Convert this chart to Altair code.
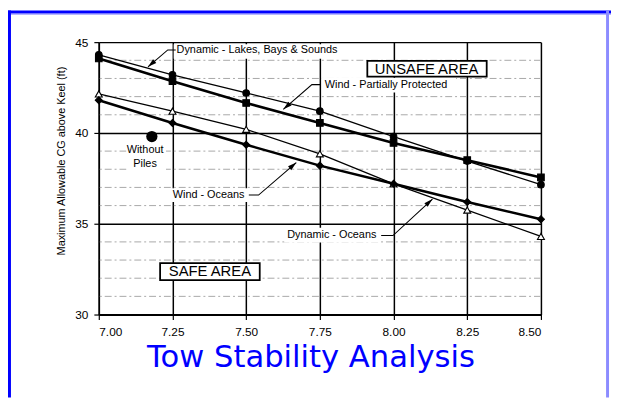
import math
import altair as alt
import pandas as pd

# ---------------- data ----------------
x_vals = [7.00, 7.25, 7.50, 7.75, 8.00, 8.25, 8.50]
dyn_lakes = [44.3, 43.2, 42.2, 41.2, 39.8, 38.45, 37.15]
wind_pp = [44.1, 42.85, 41.65, 40.55, 39.45, 38.5, 37.55]
dyn_oceans = [42.15, 41.2, 40.2, 38.85, 37.2, 35.75, 34.3]
wind_oceans = [41.8, 40.55, 39.35, 38.2, 37.2, 36.2, 35.25]

series_names = ["Dynamic - Lakes, Bays & Sounds", "Wind - Partially Protected",
                "Dynamic - Oceans", "Wind - Oceans"]
series_values = [dyn_lakes, wind_pp, dyn_oceans, wind_oceans]

without_piles_x = [7.18]
without_piles_y = [39.8]

y_ticks = [30, 35, 40, 45]
minor_y = [31, 32, 33, 34, 36, 37, 38, 39, 41, 42, 43, 44]

# annotation labels (data coordinates)
label_text = ["Dynamic - Lakes, Bays & Sounds", "Wind - Partially Protected",
              "Wind - Oceans", "Dynamic - Oceans"]
label_x = [7.264, 7.767, 7.251, 7.639]
label_y = [44.57, 42.66, 36.58, 34.40]

piles_text = ["Without", "Piles"]
piles_x = [7.157, 7.157]
piles_y = [39.08, 38.30]

area_text = ["UNSAFE AREA", "SAFE AREA"]
area_x = [8.112, 7.377]
area_y = [43.53, 32.37]
area_x1 = [7.911, 7.208]
area_x2 = [8.316, 7.546]
area_y1 = [43.97, 32.83]
area_y2 = [43.10, 31.90]

# white backgrounds behind label texts
bg_x1 = [7.254, 7.757, 7.241, 7.629, 7.094]
bg_x2 = [7.830, 8.212, 7.509, 7.957, 7.228]
bg_y1 = [44.89, 43.04, 36.96, 34.78, 39.45]
bg_y2 = [44.08, 42.23, 36.20, 33.97, 37.93]

# leader lines: three points each (label end, elbow, tip)
leader_x = [[7.261, 7.234, 7.167], [7.753, 7.723, 7.626],
            [7.509, 7.542, 7.670], [7.958, 7.998, 8.132]]
leader_y = [[44.57, 44.57, 43.64], [42.66, 42.66, 41.30],
            [36.58, 36.58, 38.37], [34.35, 34.35, 36.36]]

# ---------------- styles ----------------
W, H = 448, 276
XMIN, XMAX, YMIN, YMAX = 7.0, 8.5, 30.0, 45.0
FONT = "Liberation Sans"

styles = {
    "Dynamic - Lakes, Bays & Sounds": dict(shape="circle", filled=True, width=1.3, size=45),
    "Wind - Partially Protected": dict(shape="square", filled=True, width=2.6, size=45),
    "Dynamic - Oceans": dict(shape="triangle-up", filled=False, width=1.3, size=50),
    "Wind - Oceans": dict(shape="diamond", filled=True, width=2.6, size=50),
}

xscale = alt.Scale(domain=[XMIN, XMAX], nice=False, zero=False)
yscale = alt.Scale(domain=[YMIN, YMAX], nice=False, zero=False)
xaxis = alt.Axis(values=x_vals, format=".2f", title=None, grid=True,
                 gridColor="black", gridWidth=1.5, gridOpacity=1,
                 domainColor="black", domainWidth=2, tickColor="black",
                 tickSize=5, tickWidth=1.2, labelFont=FONT, labelFontSize=12,
                 labelColor="black", labelPadding=7)
yaxis = alt.Axis(values=y_ticks, title="Maximum Allowable CG above Keel (ft)",
                 grid=True, gridColor="black", gridWidth=1.4, gridOpacity=1,
                 domainColor="black", domainWidth=1.6, tickColor="black",
                 tickSize=5, tickWidth=1.2, labelFont=FONT, labelFontSize=12,
                 labelColor="black", labelPadding=6, titleFont=FONT,
                 titleFontSize=11, titleFontWeight=500, titleColor="black",
                 titlePadding=8, titleY=120)


def X(field="x"):
    return alt.X(f"{field}:Q", scale=xscale, axis=xaxis)


def Y(field="y"):
    return alt.Y(f"{field}:Q", scale=yscale, axis=yaxis)


layers = []

# minor dashed grid
minor_df = pd.DataFrame({"y": minor_y})
layers.append(alt.Chart(minor_df).mark_rule(color="#a8a8a8", strokeWidth=1,
                                              strokeDash=[7, 3, 2, 3]).encode(y=Y()))

# white backgrounds behind annotation labels
bg_df = pd.DataFrame({"x": bg_x1, "x2": bg_x2, "y": bg_y1, "y2": bg_y2})
layers.append(alt.Chart(bg_df).mark_rect(color="white").encode(
    x=X(), x2="x2:Q", y=Y(), y2="y2:Q"))

# series lines and points
for name, vals in zip(series_names, series_values):
    st = styles[name]
    df = pd.DataFrame({"x": x_vals, "y": vals})
    layers.append(alt.Chart(df).mark_line(color="black", strokeWidth=st["width"]).encode(
        x=X(), y=Y()))
for name, vals in zip(series_names, series_values):
    st = styles[name]
    df = pd.DataFrame({"x": x_vals, "y": vals})
    layers.append(alt.Chart(df).mark_point(
        shape=st["shape"], filled=True, size=st["size"], opacity=1,
        fill="black" if st["filled"] else "white", stroke="black",
        strokeWidth=1.1).encode(x=X(), y=Y()))

# without piles point
wp_df = pd.DataFrame({"x": without_piles_x, "y": without_piles_y})
layers.append(alt.Chart(wp_df).mark_point(shape="circle", filled=True, size=130,
                                          color="black", opacity=1).encode(x=X(), y=Y()))

# leader lines
rows = []
for i, (lx, ly) in enumerate(zip(leader_x, leader_y)):
    for j, (a, b) in enumerate(zip(lx, ly)):
        rows.append({"id": i, "o": j, "x": a, "y": b})
ld_df = pd.DataFrame(rows)
layers.append(alt.Chart(ld_df).mark_line(color="black", strokeWidth=1.1).encode(
    x=X(), y=Y(), detail="id:N", order="o:Q"))

# arrowheads
heads = []
for lx, ly in zip(leader_x, leader_y):
    dxp = (lx[2] - lx[1]) * W / (XMAX - XMIN)
    dyp = -(ly[2] - ly[1]) * H / (YMAX - YMIN)
    ang = math.degrees(math.atan2(dxp, -dyp)) % 360
    heads.append({"x": lx[2], "y": ly[2], "angle": ang})
hd_df = pd.DataFrame(heads)
layers.append(alt.Chart(hd_df).mark_point(
    shape="M0,0L0.8,2.8L-0.8,2.8Z", filled=True, size=40, color="black",
    opacity=1).encode(x=X(), y=Y(), angle=alt.Angle("angle:Q", scale=None)))

# annotation texts
lb_df = pd.DataFrame({"x": label_x, "y": label_y, "t": label_text})
layers.append(alt.Chart(lb_df).mark_text(align="left", baseline="middle", font=FONT,
                                         fontSize=11, color="black").encode(
    x=X(), y=Y(), text="t:N"))
pl_df = pd.DataFrame({"x": piles_x, "y": piles_y, "t": piles_text})
layers.append(alt.Chart(pl_df).mark_text(align="center", baseline="middle", font=FONT,
                                         fontSize=11, color="black").encode(
    x=X(), y=Y(), text="t:N"))

# boxed area labels
ar_df = pd.DataFrame({"x": area_x1, "x2": area_x2, "y": area_y1, "y2": area_y2})
layers.append(alt.Chart(ar_df).mark_rect(fill="white", stroke="black", strokeWidth=1.8).encode(
    x=X(), x2="x2:Q", y=Y(), y2="y2:Q"))
at_df = pd.DataFrame({"x": area_x, "y": area_y, "t": area_text})
layers.append(alt.Chart(at_df).mark_text(align="center", baseline="middle", font=FONT,
                                         fontSize=15, color="black").encode(
    x=X(), y=Y(), text="t:N"))

# blue frame decoration (page pixels)
one = pd.DataFrame({"a": [0]})
layers.append(alt.Chart(one).mark_rect(color="#0000ff").encode(
    x=alt.value(-92), x2=alt.value(519), y=alt.value(-32), y2=alt.value(-29)))
layers.append(alt.Chart(one).mark_rect(color="#7070ff").encode(
    x=alt.value(-92), x2=alt.value(519), y=alt.value(-29), y2=alt.value(-28)))
layers.append(alt.Chart(one).mark_rect(color="#0000ff").encode(
    x=alt.value(-92), x2=alt.value(-89), y=alt.value(-32), y2=alt.value(360)))
layers.append(alt.Chart(one).mark_rect(color="#8c8cff").encode(
    x=alt.value(514), x2=alt.value(517), y=alt.value(-32), y2=alt.value(360)))

# title
layers.append(alt.Chart(one).mark_text(align="center", baseline="middle",
                                       font="DejaVu Sans", fontSize=31,
                                       color="#0000ff").encode(
    x=alt.value(215), y=alt.value(320), text=alt.value("Tow Stability Analysis")))

chart = alt.layer(*layers).properties(
    width=W, height=H,
    autosize=alt.AutoSizeParams(type="none"),
    padding={"left": 92, "top": 32, "right": 71, "bottom": 84},
    background="white",
).configure_view(stroke=None)

chart.save("out.html", embed_options={"renderer": "svg", "actions": False})
